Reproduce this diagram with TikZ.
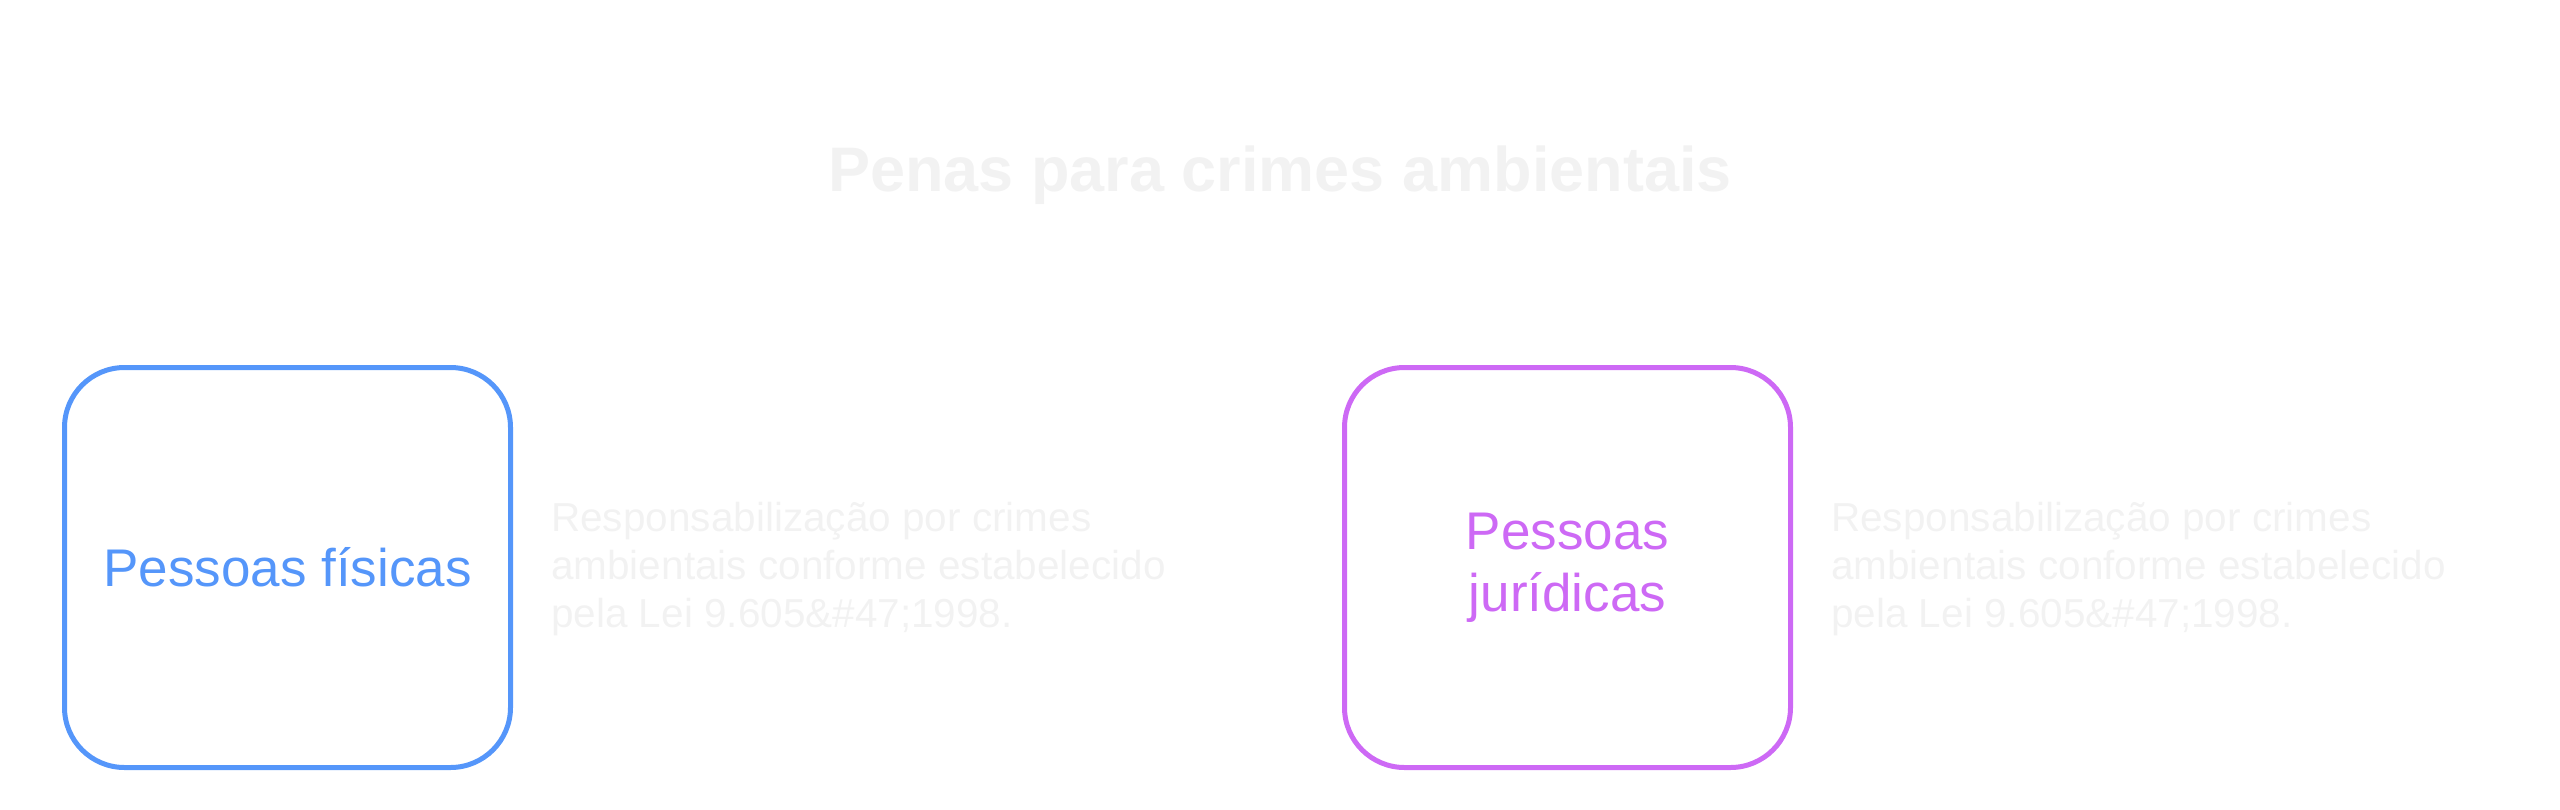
\documentclass[tikz,border=0pt]{standalone}
\usepackage{fontspec}
\setmainfont{Liberation Sans}
\usetikzlibrary{positioning}

\definecolor{fisblue}{RGB}{85,150,250}
\definecolor{jurpurple}{RGB}{205,105,245}
\definecolor{palegray}{RGB}{242,242,242}

\tikzset{
	pessoa/.style={draw, line width=5pt, rounded corners=60pt,
		minimum width=446pt, minimum height=400pt, align=center,
		font=\fontsize{53}{62}\selectfont},
	descricao/.style={align=left, inner sep=0pt, text=palegray,
		font=\fontsize{40.5}{40.5}\selectfont}
}

\begin{document}
\begin{tikzpicture}[x=1pt,y=-1pt]
	\useasboundingbox (0,0) rectangle (2560,809);
	
	\node[anchor=base, text=palegray, font=\bfseries\fontsize{63}{74}\selectfont] (titulo) at (1280,191) {Penas para crimes ambientais};
	
	\node[pessoa, draw=fisblue, text=fisblue] (fis) at (287.5,567.5) {Pessoas físicas};
	\node[descricao, right=38pt of fis, yshift=-1.5pt] (fisdesc) {Responsabilização por crimes\\[7.5pt]ambientais conforme estabelecido\\[7.5pt]pela Lei 9.605\&\#47;1998.};
	
	\node[pessoa, draw=jurpurple, text=jurpurple] (jur) at (1567.5,567.5) {Pessoas\\jurídicas};
	\node[descricao, right=38pt of jur, yshift=-1.5pt] (jurdesc) {Responsabilização por crimes\\[7.5pt]ambientais conforme estabelecido\\[7.5pt]pela Lei 9.605\&\#47;1998.};
\end{tikzpicture}
\end{document}
